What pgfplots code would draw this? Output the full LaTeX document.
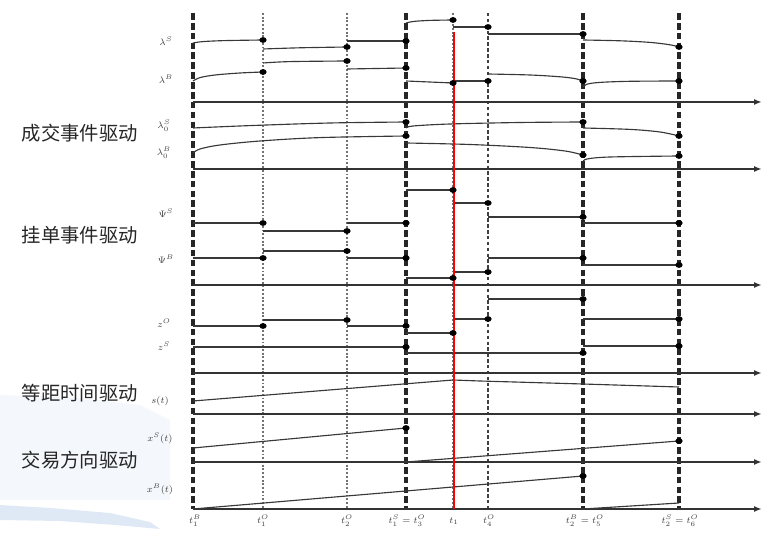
\documentclass[border=0pt]{standalone}
\usepackage{fontspec}
\usepackage{pgfplots}
\pgfplotsset{compat=1.18}
\usetikzlibrary{arrows.meta}
\newfontfamily\cjk{Noto Sans CJK SC}

\definecolor{wmlight}{RGB}{244,247,251}
\definecolor{wmblue}{RGB}{222,233,245}

\pgfplotsset{
  seg/.style={draw=black!78, line width=0.85pt, no marks},
  crv/.style={seg, smooth, tension=0.55},
  dots/.style={only marks, mark=*, mark size=1.9pt, mark options={fill=black, draw=black, xscale=1.3}},
  tline/.style={draw=black!80, line width=1.5pt, no marks, -{Latex[length=6pt,width=4.5pt]}},
  vbig/.style={draw=black!85, line width=2.3pt, dash pattern=on 5pt off 2.4pt, no marks},
  vdot/.style={draw=black!55, line width=1.2pt, dash pattern=on 1.4pt off 1.4pt, no marks},
  vdash/.style={draw=black!75, line width=0.9pt, dash pattern=on 2.6pt off 1.8pt, no marks},
}
\tikzset{
  lab/.style={font=\fontsize{7}{8}\selectfont, text=black!75},
  cn/.style={font=\cjk\fontsize{14.5}{16}\selectfont, text=black!85, anchor=west},
}

\begin{document}
\begin{tikzpicture}
\begin{axis}[scale only axis, width=578.25pt, height=400.5pt,
  xmin=0, xmax=771, ymin=0, ymax=534, y dir=reverse,
  hide axis, clip=false, unbounded coords=jump]

% frame of the picture
\addplot[draw=none, no marks] coordinates {(0,0) (771,534)};

% faint watermark, bottom left
\addplot[draw=none, fill=wmlight] coordinates {(0,395) (70,397) (140,405) (170,420) (170,500) (0,500)};
\addplot[draw=none, fill=wmblue] coordinates {(0,505) (50,508) (110,513) (150,522) (160,529) (115,525) (60,521) (0,520)};

% event times
\addplot[vbig] coordinates {(193,13) (193,509)};
\addplot[vdot] coordinates {(263,13) (263,509)};
\addplot[vdot] coordinates {(347,13) (347,509)};
\addplot[vbig] coordinates {(406,13) (406,509)};
\addplot[vdot] coordinates {(453,13) (453,509)};
\addplot[vdash] coordinates {(488,13) (488,509)};
\addplot[vbig] coordinates {(583,13) (583,509)};
\addplot[vbig] coordinates {(679,13) (679,509)};

% time axes
\addplot[tline] coordinates {(193,102) (762,102)};
\addplot[tline] coordinates {(193,169) (762,169)};
\addplot[tline] coordinates {(193,285) (762,285)};
\addplot[tline] coordinates {(193,373) (762,373)};
\addplot[tline] coordinates {(193,414) (762,414)};
\addplot[tline] coordinates {(193,462) (762,462)};
\addplot[tline] coordinates {(193,509) (762,509)};

% lambda^S
\addplot[crv] coordinates {(193,43) (203,41.6) (225,40.6) (263,40)};
\addplot[crv] coordinates {(263,49) (300,47.8) (347,47)};
\addplot[seg] coordinates {(347,41) (406,41)};
\addplot[crv] coordinates {(406,23) (414,21.4) (430,20.4) (453,20)};
\addplot[seg] coordinates {(453,27) (488,27)};
\addplot[seg] coordinates {(488,34) (583,34)};
\addplot[crv] coordinates {(583,40) (620,40.8) (650,42.4) (670,44.8) (679,47)};
\addplot[dots] coordinates {(263,40) (347,47) (406,41) (453,20) (488,27) (583,34) (679,47)};

% lambda^B
\addplot[crv] coordinates {(193,81) (200,77.6) (215,75) (240,73) (263,72)};
\addplot[crv] coordinates {(263,63) (290,61.6) (347,61)};
\addplot[seg] coordinates {(347,69) (406,68)};
\addplot[seg] coordinates {(406,81) (453,83)};
\addplot[seg] coordinates {(453,81) (488,81)};
\addplot[crv] coordinates {(488,74) (530,75) (560,76.8) (575,78.6) (583,81)};
\addplot[crv] coordinates {(583,87) (587,84.2) (600,82.4) (630,81.3) (679,81)};
\addplot[dots] coordinates {(263,72) (347,61) (406,68) (453,83) (488,81) (583,81) (679,81)};

% lambda_0^S
\addplot[crv] coordinates {(193,128) (250,125.6) (330,123) (406,122)};
\addplot[crv] coordinates {(406,128) (413,126) (450,124) (520,122.5) (583,122)};
\addplot[crv] coordinates {(583,128) (630,129.4) (660,132) (679,136)};
% lambda_0^B
\addplot[crv] coordinates {(193,153) (200,149) (220,145) (260,141) (320,137.6) (406,136)};
\addplot[crv] coordinates {(406,143) (470,144.5) (530,147.5) (565,151) (583,155)};
\addplot[crv] coordinates {(583,162) (587,159) (610,157) (679,156)};
\addplot[dots] coordinates {(406,122) (583,122) (679,136) (406,136) (583,155) (679,156)};

% Psi^S
\addplot[seg] coordinates {(193,223) (263,223) (263,nan) (263,231) (347,231) (347,nan)
  (347,223) (406,223) (406,nan) (406,190) (453,190) (453,nan) (453,203) (488,203) (488,nan)
  (488,217) (583,217) (583,nan) (583,223) (679,223)};
\addplot[dots] coordinates {(263,223) (347,231) (406,223) (453,190) (488,203) (583,217) (679,223)};
% Psi^B
\addplot[seg] coordinates {(193,258) (263,258) (263,nan) (263,251) (347,251) (347,nan)
  (347,258) (406,258) (406,nan) (406,278) (453,278) (453,nan) (453,272) (488,272) (488,nan)
  (488,258) (583,258) (583,nan) (583,265) (679,265)};
\addplot[dots] coordinates {(263,258) (347,251) (406,258) (453,278) (488,272) (583,258) (679,265)};

% z^O
\addplot[seg] coordinates {(193,326) (263,326) (263,nan) (263,320) (347,320) (347,nan)
  (347,326) (406,326) (406,nan) (406,333) (453,333) (453,nan) (453,319) (488,319) (488,nan)
  (488,299) (583,299) (583,nan) (583,319) (679,319)};
\addplot[dots] coordinates {(263,326) (347,320) (406,326) (453,333) (488,319) (583,299) (679,319)};
% z^S
\addplot[seg] coordinates {(193,347) (406,347) (406,nan) (406,353) (583,353) (583,nan) (583,346) (679,346)};
\addplot[dots] coordinates {(406,347) (583,353) (679,346)};

% s(t)
\addplot[seg] coordinates {(193,401) (453,380) (480,381) (583,384) (679,387)};
% x^S(t)
\addplot[seg] coordinates {(193,448) (406,428) (406,nan) (406,462) (679,441)};
\addplot[dots] coordinates {(406,428) (679,441)};
% x^B(t)
\addplot[seg] coordinates {(193,509) (583,476) (583,nan) (583,509) (679,503)};
\addplot[dots] coordinates {(583,476)};

% observation time
\addplot[draw=red, line width=2pt, no marks] coordinates {(454,32) (454,509)};

% series labels
\node[lab] at (axis cs:166,41) {$\lambda^{S}$};
\node[lab] at (axis cs:166,79) {$\lambda^{B}$};
\node[lab] at (axis cs:164,126) {$\lambda_0^{S}$};
\node[lab] at (axis cs:164,153) {$\lambda_0^{B}$};
\node[lab] at (axis cs:166,213) {$\Psi^{S}$};
\node[lab] at (axis cs:166,259) {$\Psi^{B}$};
\node[lab] at (axis cs:164,323) {$z^{O}$};
\node[lab] at (axis cs:164,346) {$z^{S}$};
\node[lab] at (axis cs:160,401) {$s(t)$};
\node[lab] at (axis cs:160,438) {$x^{S}(t)$};
\node[lab] at (axis cs:160,489) {$x^{B}(t)$};

% event time labels
\node[lab] at (axis cs:195,521) {$t_1^{B}$};
\node[lab] at (axis cs:263,521) {$t_1^{O}$};
\node[lab] at (axis cs:347,521) {$t_2^{O}$};
\node[lab] at (axis cs:407,521) {$t_1^{S}=t_3^{O}$};
\node[lab] at (axis cs:454,521) {$t_1$};
\node[lab] at (axis cs:489,521) {$t_4^{O}$};
\node[lab] at (axis cs:585,521) {$t_2^{B}=t_5^{O}$};
\node[lab] at (axis cs:680,521) {$t_2^{S}=t_6^{O}$};

% driver names
\node[cn] at (axis cs:17,133) {成交事件驱动};
\node[cn] at (axis cs:17,235) {挂单事件驱动};
\node[cn] at (axis cs:17,393) {等距时间驱动};
\node[cn] at (axis cs:17,460) {交易方向驱动};

\end{axis}
\end{tikzpicture}
\end{document}
